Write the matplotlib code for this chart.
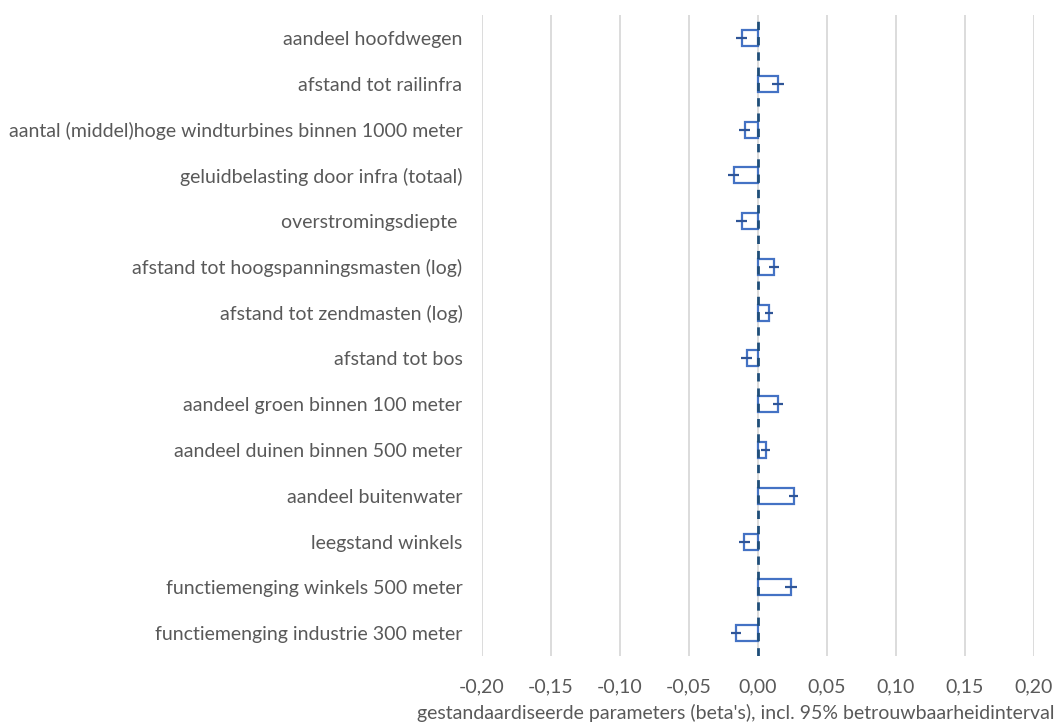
import matplotlib.pyplot as plt
from matplotlib.ticker import FuncFormatter

# data (top to bottom as in the chart)
labels = [
    "aandeel hoofdwegen",
    "afstand tot railinfra",
    "aantal (middel)hoge windturbines binnen 1000 meter",
    "geluidbelasting door infra (totaal)",
    "overstromingsdiepte ",
    "afstand tot hoogspanningsmasten (log)",
    "afstand tot zendmasten (log)",
    "afstand tot bos",
    "aandeel groen binnen 100 meter",
    "aandeel duinen binnen 500 meter",
    "aandeel buitenwater",
    "leegstand winkels",
    "functiemenging winkels 500 meter",
    "functiemenging industrie 300 meter",
]
betas = [-0.0116, 0.0145, -0.0094, -0.0174, -0.0116, 0.0116, 0.0080,
         -0.0082, 0.0145, 0.0056, 0.0260, -0.0100, 0.0240, -0.0160]
ci = [0.0040, 0.0043, 0.0040, 0.0040, 0.0040, 0.0036, 0.0030,
      0.0043, 0.0036, 0.0033, 0.0033, 0.0040, 0.0043, 0.0036]
xticks = [-0.20, -0.15, -0.10, -0.05, 0.00, 0.05, 0.10, 0.15, 0.20]

txt = "#595959"
plt.rcParams["font.family"] = ["Lato", "DejaVu Sans"]

fig = plt.figure(figsize=(10.59, 7.24), dpi=100)
ax = fig.add_axes([0.455, 0.094, 0.5212, 0.885])

y = list(range(len(labels)))
ax.barh(y, betas, height=0.35, facecolor="none", edgecolor="#4472C4",
        linewidth=1.6, zorder=3)
ax.errorbar(betas, y, xerr=ci, fmt="none", ecolor="#2F5597",
            elinewidth=1.6, capsize=0, zorder=4)
ax.axvline(0, color="#1F4E79", linewidth=2, linestyle=(0, (3, 2.5)), zorder=5)

ax.set_ylim(len(labels) - 0.5, -0.5)
ax.set_yticks(y)
ax.set_yticklabels(labels, fontsize=14, color=txt)
ax.set_xlim(-0.20, 0.20)
ax.set_xticks(xticks)
ax.xaxis.set_major_formatter(FuncFormatter(lambda v, p: f"{v:.2f}".replace(".", ",")))
ax.tick_params(axis="x", labelsize=14, labelcolor=txt, length=0, pad=16)
ax.tick_params(axis="y", length=0, pad=14)
ax.set_xlabel("gestandaardiseerde parameters (beta's), incl. 95% betrouwbaarheidinterval",
              fontsize=14, color=txt)
ax.xaxis.set_label_coords(0.46, -0.075)
ax.xaxis.label.set_va("top")

ax.grid(axis="x", color="#D9D9D9", linewidth=1.3)
ax.set_axisbelow(True)
for s in ax.spines.values():
    s.set_visible(False)

plt.savefig("out.png")
